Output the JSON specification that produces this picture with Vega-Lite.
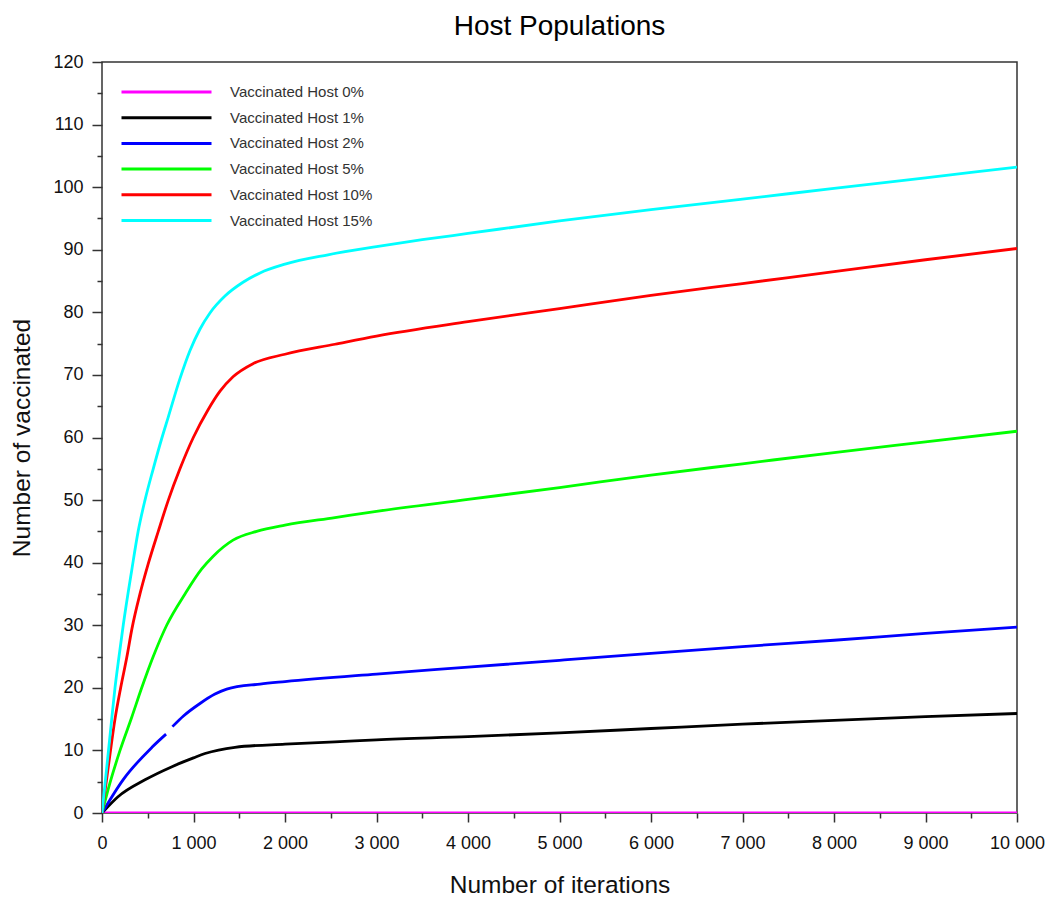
{
  "$schema": "https://vega.github.io/schema/vega-lite/v6.json",
  "width": 915,
  "height": 751,
  "autosize": "none",
  "padding": {"left": 102, "top": 62, "right": 37, "bottom": 85},
  "background": "white",
  "config": {
    "font": "Liberation Sans",
    "view": {"stroke": "#333", "strokeWidth": 1.5}
  },
  "title": {
    "text": "Host Populations",
    "fontSize": 28,
    "fontWeight": "normal",
    "color": "#000",
    "anchor": "middle",
    "offset": 12
  },
  "data": {
    "values": [
      {"series": "Vaccinated Host 0%", "iteration": 0, "vaccinated": 0},
      {"series": "Vaccinated Host 0%", "iteration": 10000, "vaccinated": 0},

      {"series": "Vaccinated Host 1%", "iteration": 0, "vaccinated": 0},
      {"series": "Vaccinated Host 1%", "iteration": 175, "vaccinated": 2.6},
      {"series": "Vaccinated Host 1%", "iteration": 470, "vaccinated": 5.3},
      {"series": "Vaccinated Host 1%", "iteration": 765, "vaccinated": 7.4},
      {"series": "Vaccinated Host 1%", "iteration": 1000, "vaccinated": 8.8},
      {"series": "Vaccinated Host 1%", "iteration": 1126, "vaccinated": 9.5},
      {"series": "Vaccinated Host 1%", "iteration": 1453, "vaccinated": 10.5},
      {"series": "Vaccinated Host 1%", "iteration": 2000, "vaccinated": 11},
      {"series": "Vaccinated Host 1%", "iteration": 2546, "vaccinated": 11.35},
      {"series": "Vaccinated Host 1%", "iteration": 3000, "vaccinated": 11.7},
      {"series": "Vaccinated Host 1%", "iteration": 4000, "vaccinated": 12.2},
      {"series": "Vaccinated Host 1%", "iteration": 5000, "vaccinated": 12.8},
      {"series": "Vaccinated Host 1%", "iteration": 6000, "vaccinated": 13.5},
      {"series": "Vaccinated Host 1%", "iteration": 7000, "vaccinated": 14.2},
      {"series": "Vaccinated Host 1%", "iteration": 8000, "vaccinated": 14.8},
      {"series": "Vaccinated Host 1%", "iteration": 9000, "vaccinated": 15.4},
      {"series": "Vaccinated Host 1%", "iteration": 10000, "vaccinated": 15.9},

      {"series": "Vaccinated Host 2%", "iteration": 0, "vaccinated": 0},
      {"series": "Vaccinated Host 2%", "iteration": 230, "vaccinated": 5.3},
      {"series": "Vaccinated Host 2%", "iteration": 546, "vaccinated": 10.5},
      {"series": "Vaccinated Host 2%", "iteration": 700, "vaccinated": 12.6},
      {"series": "Vaccinated Host 2%", "iteration": 735, "vaccinated": null},
      {"series": "Vaccinated Host 2%", "iteration": 770, "vaccinated": 13.8},
      {"series": "Vaccinated Host 2%", "iteration": 890, "vaccinated": 15.5},
      {"series": "Vaccinated Host 2%", "iteration": 1071, "vaccinated": 17.5},
      {"series": "Vaccinated Host 2%", "iteration": 1235, "vaccinated": 19.0},
      {"series": "Vaccinated Host 2%", "iteration": 1363, "vaccinated": 19.8},
      {"series": "Vaccinated Host 2%", "iteration": 1727, "vaccinated": 20.6},
      {"series": "Vaccinated Host 2%", "iteration": 2000, "vaccinated": 21},
      {"series": "Vaccinated Host 2%", "iteration": 3000, "vaccinated": 22.2},
      {"series": "Vaccinated Host 2%", "iteration": 4000, "vaccinated": 23.3},
      {"series": "Vaccinated Host 2%", "iteration": 5000, "vaccinated": 24.4},
      {"series": "Vaccinated Host 2%", "iteration": 6000, "vaccinated": 25.5},
      {"series": "Vaccinated Host 2%", "iteration": 7000, "vaccinated": 26.6},
      {"series": "Vaccinated Host 2%", "iteration": 8000, "vaccinated": 27.6},
      {"series": "Vaccinated Host 2%", "iteration": 9000, "vaccinated": 28.7},
      {"series": "Vaccinated Host 2%", "iteration": 10000, "vaccinated": 29.7},

      {"series": "Vaccinated Host 5%", "iteration": 0, "vaccinated": 0},
      {"series": "Vaccinated Host 5%", "iteration": 87, "vaccinated": 4.8},
      {"series": "Vaccinated Host 5%", "iteration": 197, "vaccinated": 10},
      {"series": "Vaccinated Host 5%", "iteration": 325, "vaccinated": 15.3},
      {"series": "Vaccinated Host 5%", "iteration": 434, "vaccinated": 20},
      {"series": "Vaccinated Host 5%", "iteration": 560, "vaccinated": 25},
      {"series": "Vaccinated Host 5%", "iteration": 707, "vaccinated": 30},
      {"series": "Vaccinated Host 5%", "iteration": 907, "vaccinated": 35},
      {"series": "Vaccinated Host 5%", "iteration": 1090, "vaccinated": 39},
      {"series": "Vaccinated Host 5%", "iteration": 1213, "vaccinated": 41},
      {"series": "Vaccinated Host 5%", "iteration": 1432, "vaccinated": 43.6},
      {"series": "Vaccinated Host 5%", "iteration": 1690, "vaccinated": 45},
      {"series": "Vaccinated Host 5%", "iteration": 2000, "vaccinated": 46},
      {"series": "Vaccinated Host 5%", "iteration": 2546, "vaccinated": 47.2},
      {"series": "Vaccinated Host 5%", "iteration": 3000, "vaccinated": 48.2},
      {"series": "Vaccinated Host 5%", "iteration": 4000, "vaccinated": 50.1},
      {"series": "Vaccinated Host 5%", "iteration": 5000, "vaccinated": 52},
      {"series": "Vaccinated Host 5%", "iteration": 6000, "vaccinated": 54},
      {"series": "Vaccinated Host 5%", "iteration": 7000, "vaccinated": 55.8},
      {"series": "Vaccinated Host 5%", "iteration": 8000, "vaccinated": 57.6},
      {"series": "Vaccinated Host 5%", "iteration": 9000, "vaccinated": 59.3},
      {"series": "Vaccinated Host 5%", "iteration": 10000, "vaccinated": 61},

      {"series": "Vaccinated Host 10%", "iteration": 0, "vaccinated": 0},
      {"series": "Vaccinated Host 10%", "iteration": 70, "vaccinated": 7.5},
      {"series": "Vaccinated Host 10%", "iteration": 142, "vaccinated": 15},
      {"series": "Vaccinated Host 10%", "iteration": 204, "vaccinated": 20},
      {"series": "Vaccinated Host 10%", "iteration": 270, "vaccinated": 24.8},
      {"series": "Vaccinated Host 10%", "iteration": 328, "vaccinated": 29.5},
      {"series": "Vaccinated Host 10%", "iteration": 415, "vaccinated": 35},
      {"series": "Vaccinated Host 10%", "iteration": 505, "vaccinated": 39.8},
      {"series": "Vaccinated Host 10%", "iteration": 615, "vaccinated": 45},
      {"series": "Vaccinated Host 10%", "iteration": 725, "vaccinated": 50},
      {"series": "Vaccinated Host 10%", "iteration": 852, "vaccinated": 55},
      {"series": "Vaccinated Host 10%", "iteration": 998, "vaccinated": 60},
      {"series": "Vaccinated Host 10%", "iteration": 1158, "vaccinated": 64.4},
      {"series": "Vaccinated Host 10%", "iteration": 1290, "vaccinated": 67.4},
      {"series": "Vaccinated Host 10%", "iteration": 1432, "vaccinated": 69.7},
      {"series": "Vaccinated Host 10%", "iteration": 1650, "vaccinated": 71.8},
      {"series": "Vaccinated Host 10%", "iteration": 2000, "vaccinated": 73.3},
      {"series": "Vaccinated Host 10%", "iteration": 2546, "vaccinated": 74.9},
      {"series": "Vaccinated Host 10%", "iteration": 3000, "vaccinated": 76.2},
      {"series": "Vaccinated Host 10%", "iteration": 4000, "vaccinated": 78.5},
      {"series": "Vaccinated Host 10%", "iteration": 5000, "vaccinated": 80.6},
      {"series": "Vaccinated Host 10%", "iteration": 6000, "vaccinated": 82.7},
      {"series": "Vaccinated Host 10%", "iteration": 7000, "vaccinated": 84.6},
      {"series": "Vaccinated Host 10%", "iteration": 8000, "vaccinated": 86.5},
      {"series": "Vaccinated Host 10%", "iteration": 9000, "vaccinated": 88.4},
      {"series": "Vaccinated Host 10%", "iteration": 10000, "vaccinated": 90.2},

      {"series": "Vaccinated Host 15%", "iteration": 0, "vaccinated": 0},
      {"series": "Vaccinated Host 15%", "iteration": 50, "vaccinated": 7},
      {"series": "Vaccinated Host 15%", "iteration": 106, "vaccinated": 15},
      {"series": "Vaccinated Host 15%", "iteration": 142, "vaccinated": 20},
      {"series": "Vaccinated Host 15%", "iteration": 186, "vaccinated": 25},
      {"series": "Vaccinated Host 15%", "iteration": 232, "vaccinated": 30},
      {"series": "Vaccinated Host 15%", "iteration": 325, "vaccinated": 38.8},
      {"series": "Vaccinated Host 15%", "iteration": 395, "vaccinated": 45},
      {"series": "Vaccinated Host 15%", "iteration": 470, "vaccinated": 50},
      {"series": "Vaccinated Host 15%", "iteration": 560, "vaccinated": 55},
      {"series": "Vaccinated Host 15%", "iteration": 652, "vaccinated": 59.8},
      {"series": "Vaccinated Host 15%", "iteration": 725, "vaccinated": 63.3},
      {"series": "Vaccinated Host 15%", "iteration": 852, "vaccinated": 69.4},
      {"series": "Vaccinated Host 15%", "iteration": 962, "vaccinated": 73.9},
      {"series": "Vaccinated Host 15%", "iteration": 1070, "vaccinated": 77.3},
      {"series": "Vaccinated Host 15%", "iteration": 1180, "vaccinated": 79.9},
      {"series": "Vaccinated Host 15%", "iteration": 1344, "vaccinated": 82.6},
      {"series": "Vaccinated Host 15%", "iteration": 1541, "vaccinated": 84.8},
      {"series": "Vaccinated Host 15%", "iteration": 1727, "vaccinated": 86.3},
      {"series": "Vaccinated Host 15%", "iteration": 2000, "vaccinated": 87.7},
      {"series": "Vaccinated Host 15%", "iteration": 2470, "vaccinated": 89.2},
      {"series": "Vaccinated Host 15%", "iteration": 3000, "vaccinated": 90.5},
      {"series": "Vaccinated Host 15%", "iteration": 3500, "vaccinated": 91.6},
      {"series": "Vaccinated Host 15%", "iteration": 4000, "vaccinated": 92.6},
      {"series": "Vaccinated Host 15%", "iteration": 5000, "vaccinated": 94.6},
      {"series": "Vaccinated Host 15%", "iteration": 6000, "vaccinated": 96.4},
      {"series": "Vaccinated Host 15%", "iteration": 7000, "vaccinated": 98.1},
      {"series": "Vaccinated Host 15%", "iteration": 8000, "vaccinated": 99.8},
      {"series": "Vaccinated Host 15%", "iteration": 9000, "vaccinated": 101.5},
      {"series": "Vaccinated Host 15%", "iteration": 10000, "vaccinated": 103.2}
    ]
  },
  "mark": {"type": "line", "strokeWidth": 2.8, "interpolate": "monotone", "invalid": "break-paths-filter-domains", "clip": true},
  "encoding": {
    "x": {
      "field": "iteration",
      "type": "quantitative",
      "scale": {"domain": [0, 10000], "nice": false, "zero": false},
      "axis": {
        "values": [0, 500, 1000, 1500, 2000, 2500, 3000, 3500, 4000, 4500, 5000, 5500, 6000, 6500, 7000, 7500, 8000, 8500, 9000, 9500, 10000],
        "grid": false,
        "domain": false,
        "tickColor": "#333",
        "tickWidth": 1.5,
        "tickSize": {"condition": {"test": "datum.value % 1000 === 0", "value": 9}, "value": 5},
        "labelExpr": "datum.value % 1000 === 0 ? replace(format(datum.value, ','), ',', ' ') : ''",
        "labelFontSize": 18,
        "labelColor": "#111",
        "labelPadding": 12,
        "labelOverlap": false,
        "labelFlush": false,
        "title": "Number of iterations",
        "titleFontSize": 24.5,
        "titleFontWeight": "normal",
        "titleColor": "#111",
        "titleX": 457.5,
        "titleY": 72,
        "titleAlign": "center",
        "titleBaseline": "middle"
      }
    },
    "y": {
      "field": "vaccinated",
      "type": "quantitative",
      "scale": {"domain": [0, 120], "nice": false},
      "axis": {
        "values": [0, 5, 10, 15, 20, 25, 30, 35, 40, 45, 50, 55, 60, 65, 70, 75, 80, 85, 90, 95, 100, 105, 110, 115, 120],
        "grid": false,
        "domain": false,
        "tickColor": "#333",
        "tickWidth": 1.5,
        "tickSize": {"condition": {"test": "datum.value % 10 === 0", "value": 10}, "value": 5},
        "labelExpr": "datum.value % 10 === 0 ? datum.label : ''",
        "labelFontSize": 18,
        "labelColor": "#111",
        "labelPadding": 9,
        "labelOverlap": false,
        "labelFlush": false,
        "title": "Number of vaccinated",
        "titleFontSize": 24.5,
        "titleFontWeight": "normal",
        "titleColor": "#111",
        "titleX": -80,
        "titleY": 375.5,
        "titleAngle": 270,
        "titleAlign": "center",
        "titleBaseline": "middle"
      }
    },
    "color": {
      "field": "series",
      "type": "nominal",
      "scale": {
        "domain": ["Vaccinated Host 0%", "Vaccinated Host 1%", "Vaccinated Host 2%", "Vaccinated Host 5%", "Vaccinated Host 10%", "Vaccinated Host 15%"],
        "range": ["#ff00ff", "#000000", "#0000ff", "#00ff00", "#ff0000", "#00ffff"]
      },
      "legend": {
        "orient": "none",
        "legendX": 18,
        "legendY": 21,
        "title": null,
        "padding": 0,
        "symbolType": "stroke",
        "symbolSize": 8100,
        "symbolStrokeWidth": 3,
        "clipHeight": 18,
        "labelFontSize": 15,
        "labelColor": "#333",
        "labelOffset": 17,
        "rowPadding": 7.7
      }
    }
  }
}
